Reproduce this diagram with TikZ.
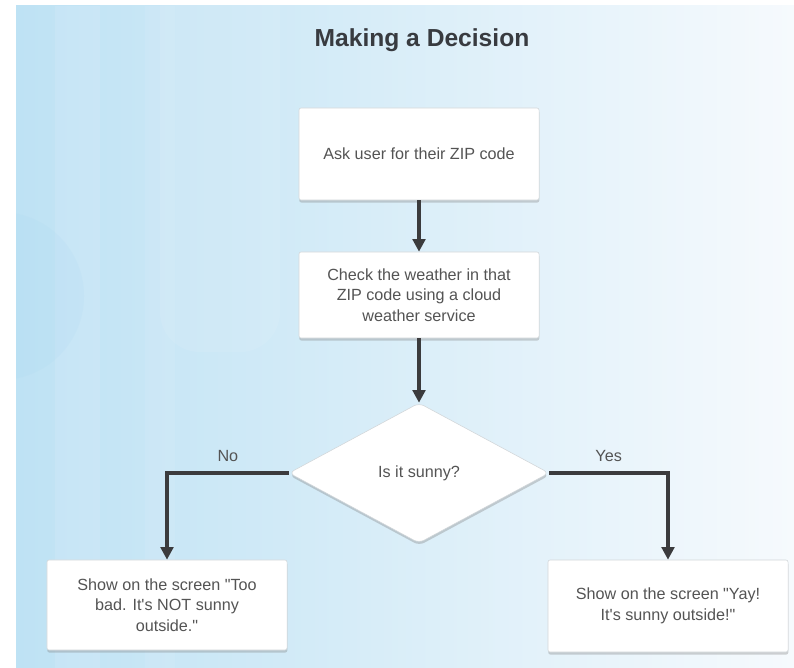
\documentclass[tikz,border=0pt]{standalone}
\usepackage{fontspec}
\setmainfont{Liberation Sans}[Ligatures=TeXOff]
\usepackage{xcolor}
\usepackage{tikz}
\usetikzlibrary{shapes.geometric}
\usetikzlibrary{arrows.meta}
\usetikzlibrary{shadows}
\definecolor{bgleft}{rgb}{0.745,0.886,0.957}
\definecolor{bgmid}{rgb}{0.80,0.915,0.97}
\definecolor{bgright}{rgb}{0.965,0.98,0.992}
\definecolor{bgdark}{rgb}{0.66,0.84,0.94}
\definecolor{arrowgray}{rgb}{0.23,0.23,0.24}
\definecolor{txtgray}{rgb}{0.33,0.33,0.33}
\definecolor{titlegray}{rgb}{0.22,0.23,0.25}
\definecolor{boxline}{rgb}{0.82,0.84,0.85}
\tikzstyle{every node}=[font=\fontsize{11.5}{14.5}\selectfont,text=txtgray]
\tikzstyle{box}=[draw=boxline,line width=0.4pt,fill=white,rounded corners=1.5pt,minimum width=6cm,minimum height=2.25cm,align=center,drop shadow={shadow xshift=0.2pt,shadow yshift=-1.8pt,opacity=0.35}]
\tikzstyle{question}=[diamond,draw=boxline,line width=0.4pt,fill=white,rounded corners=4pt,minimum width=6.5cm,minimum height=3.5cm,align=center,drop shadow={shadow xshift=0.2pt,shadow yshift=-1.8pt,opacity=0.35}]
\tikzstyle{flow}=[line width=2.8pt,draw=arrowgray,-{Triangle[length=9pt,width=9pt]}]

\begin{document}
\begin{tikzpicture}[line join=miter,x=0.025cm,y=-0.025cm]
                \useasboundingbox (0,0) rectangle (794,668);
                % background
                \shade[left color=bgleft,middle color=bgmid,right color=bgright] (16,6) rectangle (794,668);
                \begin{scope}
                \clip (16,6) rectangle (794,668);
                \fill[white,opacity=0.10] (55,6) rectangle (100,668);
                \fill[white,opacity=0.08] (145,6) rectangle (175,668);
                \fill[white,opacity=0.08,rounded corners=1cm] (160,-40) rectangle (280,352);
                \fill[bgdark,opacity=0.15] (0,296) circle (2.1cm);
                \end{scope}
                \node[font=\fontsize{17.5}{20}\selectfont\bfseries,text=titlegray] (title) at (422,40) {Making a Decision};
                % flow chart
                \node[box,minimum height=2.3cm] (ask) at (419,154) {Ask user for their ZIP code};
                \node[box,minimum height=2.15cm] (check) at (419,295) {Check the weather in that\\ZIP code using a cloud\\weather service};
                \node[question] (sunny) at (419,473) {Is it sunny?};
                \node[box] (bad) at (167,605) {Show on the screen "Too\\bad. It's NOT sunny\\outside."};
                \node[box,minimum height=2.3cm] (yay) at (668,606) {Show on the screen "Yay!\\It's sunny outside!"};
                \draw[flow] (ask.south) -- (check.north);
                \draw[flow] (check.south) -- (sunny.north);
                \draw[flow] (sunny.west) -| node[pos=0.25,above=3pt] (no) {No} (bad.north);
                \draw[flow] (sunny.east) -| node[pos=0.25,above=3pt] (yes) {Yes} (yay.north);
            \end{tikzpicture}
\end{document}
